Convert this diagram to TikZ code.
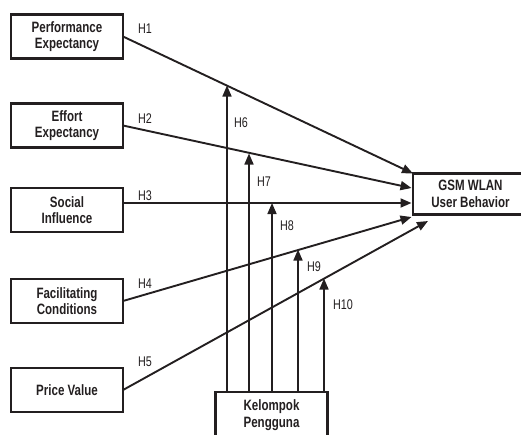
\documentclass[tikz,border=0pt]{standalone}
\usepackage{fontspec}
\setmainfont{Liberation Sans}[FakeStretch=0.77]
\usetikzlibrary{arrows.meta}
\definecolor{ink}{RGB}{35,31,32}
\begin{document}
\begin{tikzpicture}[x=1pt,y=-1pt,
  box/.style={draw=ink,line width=2.8pt,outer sep=0pt,inner sep=0pt,
    minimum width=112pt,minimum height=44pt,align=center,text=ink,
    font=\bfseries\fontsize{15}{16.5}\selectfont},
  conn/.style={draw=ink,line width=1.9pt,-{Triangle[length=11pt,width=9pt]}},
  varrow/.style={draw=ink,line width=1.6pt,-{Triangle[length=11pt,width=9pt]}},
  hlab/.style={text=ink,font=\fontsize{14}{15}\selectfont,inner sep=0pt,anchor=base west}]
\useasboundingbox (0,0) rectangle (521,434);
% left boxes
\node[box] (p) at (67,36.5) {Performance\\Expectancy};
\node[box] (e) at (67,125.5) {Effort\\Expectancy};
\node[box] (s) at (67,210) {Social\\Influence};
\node[box] (f) at (67,301) {Facilitating\\Conditions};
\node[box] (v) at (67,390) {Price Value};
% target box
\node[box,minimum width=115pt,minimum height=41pt] (g) at (470.5,194) {GSM WLAN\\User Behavior};
% moderator box
\node[box,minimum height=46pt] (k) at (271.5,415) {Kelompok\\Pengguna};
% connector end points
\coordinate (e2) at (411.5,188);
\coordinate (e3) at (411.5,203);
\coordinate (e4) at (411.5,217);
\coordinate (e5) at (428,221);
\coordinate (s3) at (123,203);
% main connectors
\draw[conn] (p.east) -- (g.north west);
\draw[conn] (e.east) -- (e2);
\draw[conn] (s3) -- (e3);
\draw[conn] (f.east) -- (e4);
\draw[conn] (v.east) -- (e5);
% moderator arrow tips on the lines
\coordinate (t6) at (227,85.5);
\coordinate (t7) at (249,153.5);
\coordinate (t8) at (272,203);
\coordinate (t9) at (298,249.5);
\coordinate (t10) at (324,278.5);
\draw[varrow] (t6 |- k.north) -- (t6);
\draw[varrow] (t7 |- k.north) -- (t7);
\draw[varrow] (t8 |- k.north) -- (t8);
\draw[varrow] (t9 |- k.north) -- (t9);
\draw[varrow] (t10 |- k.north) -- (t10);
% labels
\node[hlab] (h1) at (138,33) {H1};
\node[hlab] (h2) at (138,123) {H2};
\node[hlab] (h3) at (138,200) {H3};
\node[hlab] (h4) at (138,288) {H4};
\node[hlab] (h5) at (138,366) {H5};
\node[hlab] (h6) at (234,127) {H6};
\node[hlab] (h7) at (257,186) {H7};
\node[hlab] (h8) at (280,230) {H8};
\node[hlab] (h9) at (307,271) {H9};
\node[hlab] (h10) at (333,309) {H10};
\end{tikzpicture}
\end{document}
